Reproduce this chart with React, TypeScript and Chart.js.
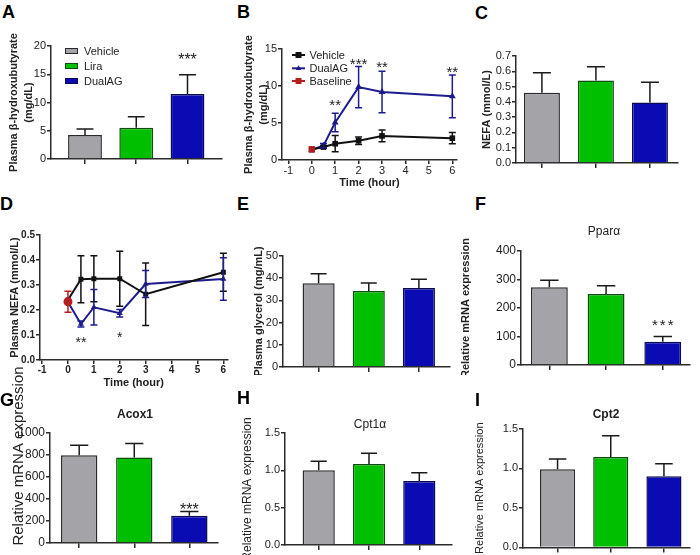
import React, { useEffect, useRef } from 'react';
import { Chart, registerables } from 'chart.js';

Chart.register(...registerables);

const FONT = "'Liberation Sans', Arial, Helvetica, sans-serif";
Chart.defaults.font.family = FONT;
Chart.defaults.color = '#222';

// ---------------- data ----------------
const groups = ['Vehicle', 'Lira', 'DualAG'];
const barPositions = [0, 1, 2];
const lineSeries = ['Vehicle', 'DualAG', 'Baseline'];

// A: plasma beta-hydroxybutyrate
const aValues = [4.25, 5.55, 11.5];
const aErrors = [1.05, 1.95, 3.4];
const aTicks = [0, 5, 10, 15, 20];
const aStars = [{ x: 2, y: 18.2, text: '***' }];

// B: time course beta-hydroxybutyrate
const timePoints = [0, 0.5, 1, 2, 3, 6];
const baselineTime = [0];
const timeTicks = [-1, 0, 1, 2, 3, 4, 5, 6];
const bVehicle = [1.4, 1.75, 2.2, 2.6, 3.25, 2.95];
const bVehicleErr = [0, 0.15, 1.1, 0.5, 0.8, 0.75];
const bDual = [1.4, 1.94, 5.06, 9.85, 9.2, 8.6];
const bDualErr = [0, 0.3, 1.25, 2.8, 2.8, 2.9];
const bBaseline = [1.45];
const bBaselineErr = [0];
const bTicks = [0, 5, 10, 15];
const bStars = [
  { x: 1, y: 7.9, text: '**' },
  { x: 2, y: 13.4, text: '***' },
  { x: 3, y: 13.0, text: '**' },
  { x: 6, y: 12.4, text: '**' },
];

// C: NEFA
const cValues = [0.46, 0.54, 0.395];
const cErrors = [0.13, 0.09, 0.133];
const cTicks = [0, 0.1, 0.2, 0.3, 0.4, 0.5, 0.6, 0.7];

// D: time course plasma NEFA
const dVehicle = [0.24, 0.323, 0.325, 0.325, 0.263, 0.351];
const dVehicleErr = [0, 0.094, 0.092, 0.11, 0.125, 0.076];
const dDual = [0.232, 0.144, 0.211, 0.187, 0.304, 0.324];
const dDualErr = [0, 0.012, 0.071, 0.015, 0.054, 0.085];
const dBaseline = [0.233];
const dBaselineErr = [0.042];
const dTicks = [0, 0.1, 0.2, 0.3, 0.4, 0.5];
const dStars = [
  { x: 0.5, y: 0.083, text: '**' },
  { x: 2, y: 0.104, text: '*' },
];

// E: plasma glycerol
const eValues = [37.7, 34.2, 35.6];
const eErrors = [4.3, 3.6, 3.9];
const eTicks = [0, 10, 20, 30, 40, 50];

// F: Ppara
const fValues = [272.6, 249, 81.8];
const fErrors = [25, 29, 18];
const fTicks = [0, 100, 200, 300, 400];
const fStars = [{ x: 2, y: 152, text: '***' }];

// G: Acox1
const gValues = [798, 777, 247];
const gErrors = [90, 127, 39];
const gTicks = [0, 200, 400, 600, 800, 1000];
const gStars = [{ x: 2, y: 339, text: '***' }];

// H: Cpt1a
const hValues = [1.0, 1.085, 0.858];
const hErrors = [0.12, 0.145, 0.11];
const hTicks = [0, 0.5, 1.0, 1.5];

// I: Cpt2
const iValues = [0.99, 1.145, 0.9];
const iErrors = [0.13, 0.27, 0.16];
const iTicks = [0, 0.5, 1.0, 1.5];

// ---------------- styles ----------------
const AXIS = '#2b2b2b';
const BAR_FILL = ['#a3a3a8', '#00bf00', '#0b0bb3'];
const BAR_EDGE = ['#2a2a2a', '#0d4d0d', '#0a0a55'];
const LINE_COLORS = ['#111111', '#1c1c8e', '#b41e1e'];

type Box = { x: number; y: number; w: number; h: number };
type Plot = { L: number; T: number; R: number; B: number };

function layoutFor(box: Box, plot: Plot) {
  return {
    padding: { left: 0, top: plot.T - box.y, right: box.x + box.w - plot.R, bottom: 0 },
    yWidth: plot.L - box.x,
    xHeight: box.y + box.h - plot.B,
  };
}

const errorBarPlugin = {
  id: 'errorBars',
  afterDatasetsDraw(chart: any) {
    const ctx = chart.ctx;
    chart.data.datasets.forEach((ds: any, di: number) => {
      if (!ds.errors) return;
      const meta = chart.getDatasetMeta(di);
      const ys = chart.scales[meta.yAxisID];
      meta.data.forEach((el: any, i: number) => {
        const e = ds.errors[i];
        if (!e) return;
        const v = ds.data[i].y;
        const x = el.x;
        const top = ys.getPixelForValue(v + e);
        const bottom = ds.errorBoth ? ys.getPixelForValue(v - e) : ys.getPixelForValue(v);
        const cap = ds.capWidth ? ds.capWidth : el.width ? el.width / 2 : 7;
        ctx.save();
        ctx.strokeStyle = ds.errorColor || '#111';
        ctx.lineWidth = ds.errorWidth || 1.5;
        ctx.beginPath();
        ctx.moveTo(x, top);
        ctx.lineTo(x, bottom);
        ctx.moveTo(x - cap / 2, top);
        ctx.lineTo(x + cap / 2, top);
        if (ds.errorBoth) {
          ctx.moveTo(x - cap / 2, bottom);
          ctx.lineTo(x + cap / 2, bottom);
        }
        ctx.stroke();
        ctx.restore();
      });
    });
  },
};

function drawMarker(ctx: any, style: string, x: number, y: number, r: number, color: string) {
  ctx.fillStyle = color;
  ctx.beginPath();
  if (style === 'triangle') {
    ctx.moveTo(x, y - r);
    ctx.lineTo(x + r * 0.9, y + r * 0.6);
    ctx.lineTo(x - r * 0.9, y + r * 0.6);
    ctx.closePath();
  } else if (style === 'circle') {
    ctx.arc(x, y, r, 0, Math.PI * 2);
  } else {
    ctx.rect(x - r, y - r, 2 * r, 2 * r);
  }
  ctx.fill();
}

function makeDecor(spec: any) {
  return {
    id: 'decor',
    afterDraw(chart: any) {
      const ctx = chart.ctx;
      const ox = spec.box.x;
      const oy = spec.box.y;
      ctx.save();
      (spec.stars || []).forEach((s: any) => {
        const size = spec.starSize || 15;
        const px = chart.scales.x.getPixelForValue(s.x);
        const py = chart.scales.y.getPixelForValue(s.y);
        ctx.font = `${size}px ${FONT}`;
        ctx.fillStyle = '#222';
        ctx.textAlign = 'center';
        ctx.textBaseline = 'middle';
        (ctx as any).letterSpacing = (spec.starSpacing || 0) + 'px';
        ctx.fillText(s.text, px + (spec.starSpacing || 0) / 2, py + size * 0.28);
        (ctx as any).letterSpacing = '0px';
      });
      (spec.texts || []).forEach((t: any) => {
        ctx.save();
        ctx.translate(t.x - ox, t.y - oy);
        if (t.rotate) ctx.rotate(t.rotate);
        ctx.font = t.font;
        ctx.fillStyle = t.color || '#222';
        ctx.textAlign = 'center';
        ctx.textBaseline = 'middle';
        ctx.fillText(t.text, 0, 0);
        ctx.restore();
      });
      if (spec.legend) {
        const lg = spec.legend;
        lg.items.forEach((it: any, i: number) => {
          const cy = lg.rows[i] - oy;
          ctx.font = `11px ${FONT}`;
          ctx.fillStyle = '#222';
          ctx.textAlign = 'left';
          ctx.textBaseline = 'middle';
          ctx.fillText(it.label, lg.textX - ox, cy + 0.5);
          if (it.kind === 'box') {
            ctx.fillStyle = it.color;
            ctx.fillRect(lg.x - ox, cy - 2.5, 13, 5);
            ctx.strokeStyle = it.edge;
            ctx.lineWidth = 1;
            ctx.strokeRect(lg.x - ox + 0.5, cy - 2.5, 12, 5);
          } else {
            ctx.strokeStyle = it.color;
            ctx.lineWidth = 2;
            ctx.beginPath();
            ctx.moveTo(lg.x - ox, cy);
            ctx.lineTo(lg.x - ox + 13, cy);
            ctx.stroke();
            drawMarker(ctx, it.marker, lg.x - ox + 6.5, cy, 3, it.color);
          }
        });
      }
      ctx.restore();
    },
  };
}

function yScaleOpts(p: any, lay: any) {
  return {
    type: 'linear',
    min: p.ticks[0],
    max: p.ticks[p.ticks.length - 1],
    afterBuildTicks: (s: any) => {
      s.ticks = p.ticks.map((v: number) => ({ value: v }));
    },
    afterFit: (s: any) => {
      s.width = lay.yWidth;
    },
    ticks: {
      autoSkip: false,
      font: { size: p.tickSize || 11, weight: p.tickBold ? 'bold' : 'normal' },
      color: '#222',
      padding: 1,
      callback: (v: number) => (p.decimals ? Number(v).toFixed(p.decimals) : String(v)),
    },
    grid: { drawOnChartArea: false, drawTicks: true, tickLength: 4, tickColor: AXIS, lineWidth: 1.5 },
    border: { display: true, color: AXIS, width: 1.5 },
    title: p.yTitle
      ? {
          display: true,
          text: p.yTitle,
          color: '#222',
          font: { size: p.yTitleSize || 11, weight: p.yTitleBold === false ? 'normal' : 'bold', lineHeight: p.yTitleLH || 1.2 },
          padding: { top: p.yTitlePad, bottom: 0 },
        }
      : { display: false },
  };
}

function barConfig(p: any) {
  const lay = layoutFor(p.box, p.plot);
  return {
    type: 'bar',
    data: {
      labels: groups,
      datasets: [
        {
          label: p.name,
          data: p.values.map((v: number, i: number) => ({ x: barPositions[i], y: v })),
          backgroundColor: BAR_FILL,
          borderColor: BAR_EDGE,
          borderWidth: 1.5,
          borderSkipped: 'bottom',
          barPercentage: p.barFrac,
          categoryPercentage: 1,
          errors: p.errors,
          errorBoth: false,
          errorColor: '#1a1a1a',
          errorWidth: 1.5,
        },
      ],
    },
    options: {
      responsive: false,
      animation: false,
      devicePixelRatio: 1,
      layout: { padding: lay.padding },
      plugins: { legend: { display: false }, tooltip: { enabled: false } },
      scales: {
        x: {
          type: 'linear',
          min: p.xMin,
          max: p.xMax,
          offset: false,
          afterBuildTicks: (s: any) => {
            s.ticks = barPositions.map((v) => ({ value: v }));
          },
          afterFit: (s: any) => {
            s.height = lay.xHeight;
          },
          ticks: { display: true, autoSkip: false, callback: () => '' },
          grid: { drawOnChartArea: false, drawTicks: true, tickLength: 5, tickColor: AXIS, lineWidth: 1.5, offset: false },
          border: { display: true, color: AXIS, width: 1.5 },
        },
        y: yScaleOpts(p, lay),
      },
    },
    plugins: [errorBarPlugin, makeDecor(p)],
  };
}

function lineConfig(p: any) {
  const lay = layoutFor(p.box, p.plot);
  const mk = (xs: number[], ys: number[]) => ys.map((v, i) => ({ x: xs[i], y: v }));
  return {
    type: 'line',
    data: {
      datasets: [
        {
          label: lineSeries[2],
          data: mk(baselineTime, p.baseline),
          borderColor: LINE_COLORS[2],
          backgroundColor: LINE_COLORS[2],
          pointStyle: p.baselineMarker,
          pointRadius: p.baselineRadius,
          pointBorderWidth: 0,
          showLine: false,
          errors: p.baselineErr,
          errorBoth: true,
          errorColor: LINE_COLORS[2],
          errorWidth: 1.5,
          capWidth: 7,
        },
        {
          label: lineSeries[0],
          data: mk(timePoints, p.vehicle),
          borderColor: LINE_COLORS[0],
          backgroundColor: LINE_COLORS[0],
          borderWidth: 2,
          pointStyle: 'rect',
          pointRadius: p.markerRadius,
          pointBorderWidth: 0,
          tension: 0,
          errors: p.vehicleErr,
          errorBoth: true,
          errorColor: LINE_COLORS[0],
          errorWidth: 1.5,
          capWidth: 7,
        },
        {
          label: lineSeries[1],
          data: mk(timePoints, p.dual),
          borderColor: LINE_COLORS[1],
          backgroundColor: LINE_COLORS[1],
          borderWidth: 2,
          pointStyle: 'triangle',
          pointRadius: p.markerRadius,
          pointBorderWidth: 0,
          tension: 0,
          errors: p.dualErr,
          errorBoth: true,
          errorColor: LINE_COLORS[1],
          errorWidth: 1.5,
          capWidth: 7,
        },
      ],
    },
    options: {
      responsive: false,
      animation: false,
      devicePixelRatio: 1,
      layout: { padding: lay.padding },
      plugins: { legend: { display: false }, tooltip: { enabled: false } },
      scales: {
        x: {
          type: 'linear',
          min: p.xMin,
          max: p.xMax,
          afterBuildTicks: (s: any) => {
            s.ticks = timeTicks.map((v) => ({ value: v }));
          },
          afterFit: (s: any) => {
            s.height = lay.xHeight;
          },
          ticks: {
            autoSkip: false,
            font: { size: p.tickSize || 11, weight: p.tickBold ? 'bold' : 'normal' },
            color: '#222',
            padding: 0,
            maxRotation: 0,
            callback: (v: number) => String(v),
          },
          grid: { drawOnChartArea: false, drawTicks: true, tickLength: 4, tickColor: AXIS, lineWidth: 1.5 },
          border: { display: true, color: AXIS, width: 1.5 },
          title: {
            display: true,
            text: 'Time (hour)',
            color: '#222',
            font: { size: 11, weight: 'bold' },
            padding: { top: 0, bottom: p.xTitlePad },
          },
        },
        y: yScaleOpts(p, lay),
      },
    },
    plugins: [errorBarPlugin, makeDecor(p)],
  };
}

// ---------------- panel specs ----------------
const panels: any[] = [
  {
    kind: 'bar', name: 'A', box: { x: 0, y: 30, w: 232, h: 160 }, plot: { L: 51, T: 46, R: 222, B: 159 },
    values: aValues, errors: aErrors, ticks: aTicks, xMin: -0.663, xMax: 2.673, barFrac: 0.66,
    yTitle: ['Plasma β-hydroxubutyrate', '(mg/dL)'], yTitleLH: 1.36, yTitlePad: 6.5,
    stars: aStars, starSize: 16,
    legend: {
      x: 65, textX: 84, rows: [51, 66, 81],
      items: groups.map((g, i) => ({ label: g, kind: 'box', color: BAR_FILL[i], edge: BAR_EDGE[i] })),
    },
  },
  {
    kind: 'line', name: 'B', box: { x: 232, y: 30, w: 238, h: 160 }, plot: { L: 282, T: 49, R: 457, B: 160 },
    xMin: -1.27, xMax: 6.2, ticks: bTicks,
    vehicle: bVehicle, vehicleErr: bVehicleErr, dual: bDual, dualErr: bDualErr,
    baseline: bBaseline, baselineErr: bBaselineErr, baselineMarker: 'rect', baselineRadius: 4.5, markerRadius: 4,
    yTitle: ['Plasma β-hydroxubutyrate', '(mg/dL)'], yTitleLH: 1.36, yTitlePad: 9.5, xTitlePad: 0.4,
    stars: bStars, starSize: 15,
    legend: {
      x: 292, textX: 309.5, rows: [55, 68.3, 81],
      items: [
        { label: lineSeries[0], kind: 'line', color: LINE_COLORS[0], marker: 'rect' },
        { label: lineSeries[1], kind: 'line', color: LINE_COLORS[1], marker: 'triangle' },
        { label: lineSeries[2], kind: 'line', color: LINE_COLORS[2], marker: 'rect' },
      ],
    },
  },
  {
    kind: 'bar', name: 'C', box: { x: 470, y: 30, w: 230, h: 160 }, plot: { L: 516, T: 56, R: 678, B: 163 },
    values: cValues, errors: cErrors, ticks: cTicks, decimals: 1, xMin: -0.48, xMax: 2.52, barFrac: 0.667,
    yTitle: 'NEFA (mmol/L)', yTitlePad: 10.1,
  },
  {
    kind: 'line', name: 'D', box: { x: 0, y: 215, w: 232, h: 175 }, plot: { L: 40, T: 235, R: 231, B: 360 },
    xMin: -1.08, xMax: 6.16, ticks: dTicks, decimals: 1, tickSize: 10, tickBold: true,
    vehicle: dVehicle, vehicleErr: dVehicleErr, dual: dDual, dualErr: dDualErr,
    baseline: dBaseline, baselineErr: dBaselineErr, baselineMarker: 'circle', baselineRadius: 4.5, markerRadius: 3.5,
    yTitle: 'Plasma NEFA (mmol/L)', yTitlePad: 8.4, xTitlePad: 0.4,
    stars: dStars, starSize: 14,
  },
  {
    kind: 'bar', name: 'E', box: { x: 232, y: 215, w: 238, h: 160 }, plot: { L: 283, T: 256, R: 450, B: 367 },
    values: eValues, errors: eErrors, ticks: eTicks, xMin: -0.71, xMax: 2.62, barFrac: 0.64,
    yTitle: 'Plasma glycerol (mg/mL)', yTitlePad: 20.4,
  },
  {
    kind: 'bar', name: 'F', box: { x: 455, y: 215, w: 245, h: 160 }, plot: { L: 521, T: 251, R: 690, B: 365 },
    values: fValues, errors: fErrors, ticks: fTicks, tickSize: 12, xMin: -0.5, xMax: 2.48, barFrac: 0.65,
    yTitle: 'Relative mRNA expression', yTitlePad: 4.4,
    stars: fStars, starSize: 15, starSpacing: 2,
    texts: [{ text: 'Pparα', x: 604, y: 232, font: `12px ${FONT}` }],
  },
  {
    kind: 'bar', name: 'G', box: { x: 0, y: 360, w: 232, h: 195 }, plot: { L: 50, T: 433, R: 218, B: 543 },
    values: gValues, errors: gErrors, ticks: gTicks, tickSize: 12, xMin: -0.53, xMax: 2.52, barFrac: 0.66,
    stars: gStars, starSize: 16,
    texts: [
      { text: 'Acox1', x: 135, y: 415, font: `bold 12px ${FONT}` },
      { text: 'Relative mRNA expression', x: 19, y: 456, font: `15px ${FONT}`, rotate: -Math.PI / 2 },
    ],
  },
  {
    kind: 'bar', name: 'H', box: { x: 232, y: 380, w: 238, h: 175 }, plot: { L: 285, T: 433, R: 452, B: 545 },
    values: hValues, errors: hErrors, ticks: hTicks, decimals: 1, xMin: -0.67, xMax: 2.65, barFrac: 0.64,
    yTitle: 'Relative mRNA expression', yTitleBold: false, yTitleSize: 12, yTitlePad: 8.8,
    texts: [{ text: 'Cpt1α', x: 370, y: 425, font: `12px ${FONT}` }],
  },
  {
    kind: 'bar', name: 'I', box: { x: 470, y: 380, w: 230, h: 175 }, plot: { L: 523, T: 429, R: 690, B: 548 },
    values: iValues, errors: iErrors, ticks: iTicks, decimals: 1, xMin: -0.65, xMax: 2.49, barFrac: 0.66,
    yTitle: 'Relative mRNA expression', yTitleBold: false, yTitleSize: 11, yTitlePad: 3.4,
    texts: [{ text: 'Cpt2', x: 606, y: 415, font: `bold 12px ${FONT}` }],
  },
];

const letters: [string, number, number][] = [
  ['A', 2, 5], ['B', 237, 5], ['C', 475, 6],
  ['D', 0, 197], ['E', 237, 197], ['F', 475, 197],
  ['G', 0, 393], ['H', 237, 391], ['I', 475, 393],
];

function Panel({ spec }: { spec: any }) {
  const ref = useRef<HTMLCanvasElement>(null);
  useEffect(() => {
    const cfg: any = spec.kind === 'bar' ? barConfig(spec) : lineConfig(spec);
    const chart = new Chart(ref.current as HTMLCanvasElement, cfg);
    return () => chart.destroy();
  }, [spec]);
  const { x, y, w, h } = spec.box;
  return (
    <div style={{ position: 'absolute', left: x, top: y, width: w, height: h }}>
      <canvas ref={ref} width={w} height={h} style={{ width: w, height: h, display: 'block' }} />
    </div>
  );
}

export default function App() {
  return (
    <div style={{ position: 'absolute', left: 0, top: 0, width: 700, height: 555, background: '#fff', overflow: 'hidden' }}>
      {panels.map((p) => (
        <Panel key={p.name} spec={p} />
      ))}
      {letters.map(([t, x, y]) => (
        <div
          key={t}
          style={{
            position: 'absolute', left: x, top: y - 2.5, fontFamily: FONT, fontWeight: 'bold',
            fontSize: 18, lineHeight: '19px', color: '#000',
          }}
        >
          {t}
        </div>
      ))}
    </div>
  );
}
